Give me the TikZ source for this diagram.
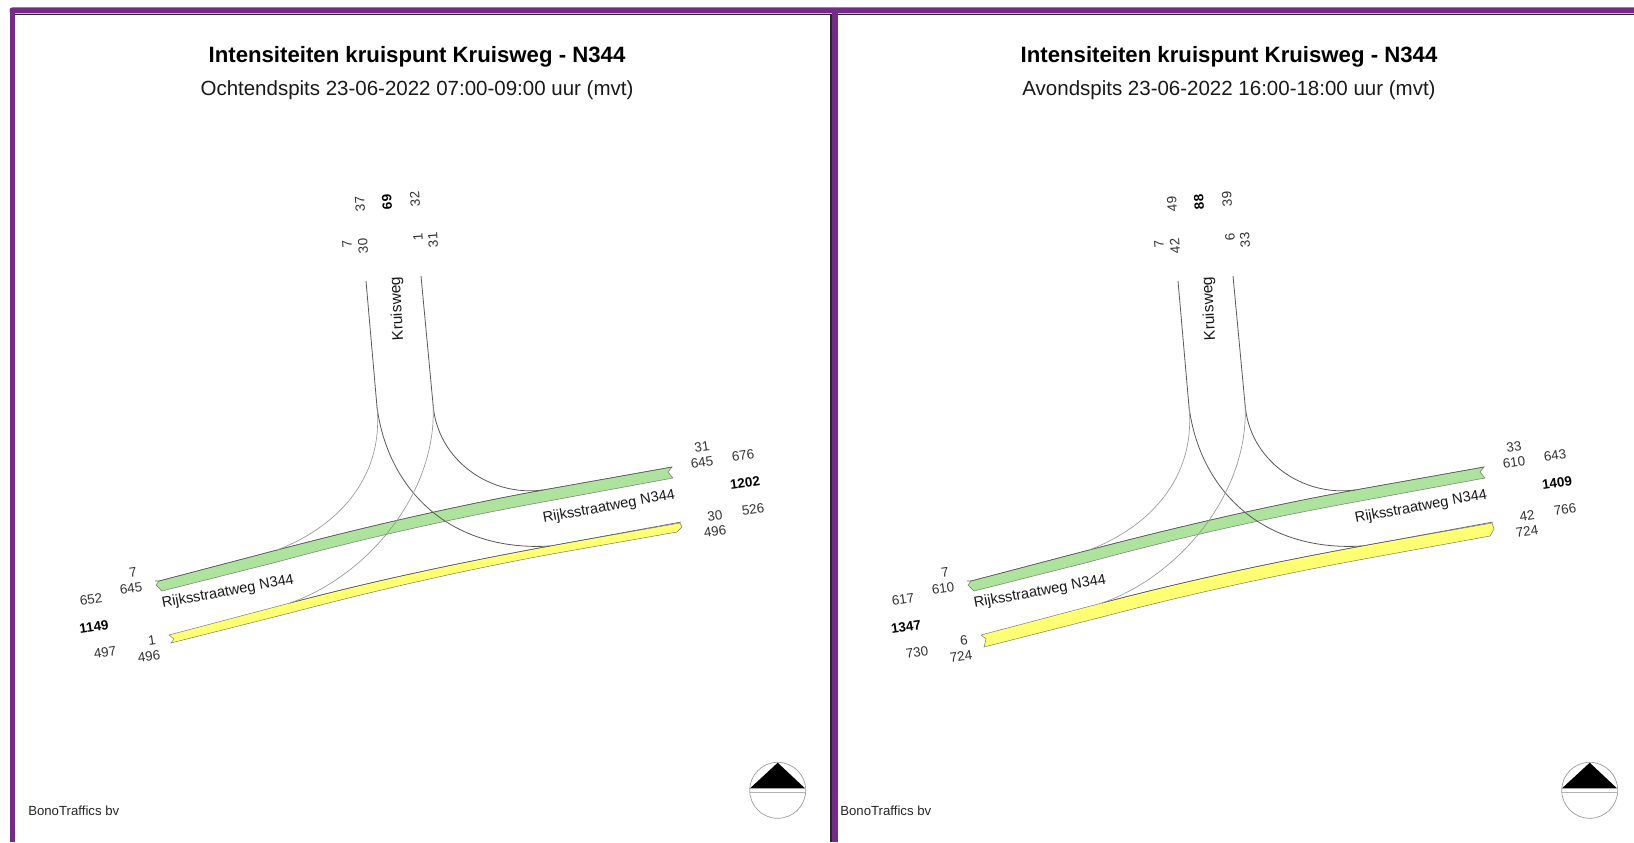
\documentclass[tikz,border=0pt]{standalone}
\usepackage{fontspec}
\setmainfont{Liberation Sans}
\definecolor{framepurple}{HTML}{772B88}
\definecolor{roadgreen}{HTML}{ADE39D}
\definecolor{roadyellow}{HTML}{FFFF73}
\tikzset{
  num/.style={font=\fontsize{10.1pt}{11pt}\selectfont,text=black!80,inner sep=0pt},
  numb/.style={font=\fontsize{10.1pt}{11pt}\selectfont\bfseries,text=black,inner sep=0pt},
  roadname/.style={font=\fontsize{10.95pt}{12pt}\selectfont,text=black!90,inner sep=0pt},
  titlet/.style={font=\fontsize{16.64pt}{18pt}\selectfont\bfseries,inner sep=0pt},
  subt/.style={font=\fontsize{15.37pt}{18pt}\selectfont,text=black!90,inner sep=0pt},
  edge/.style={draw=black!65,line width=0.6pt},
  thin edge/.style={draw=black!40,line width=0.5pt},
  bandline/.style={draw=black!65,line width=0.45pt},
}
\newcommand{\panelroads}[2]{%
  \begin{scope}[shift={(#2,0)}]
    \node[coordinate] (#1L0) at (366,281) {};
    \node[coordinate] (#1L1) at (377,407) {};
    \node[coordinate] (#1R0) at (421,276) {};
    \node[coordinate] (#1R1) at (433,404) {};
    \node[coordinate] (#1GL) at (277,550) {};
    \node[coordinate] (#1GR) at (543,490) {};
    \node[coordinate] (#1YL) at (290,603) {};
    \node[coordinate] (#1YR) at (550,546) {};
    % green band
    \fill[roadgreen,draw=black!55,line width=0.35pt]
      (159,581) -- (156,585) -- (162,591) -- (277,562)
      .. controls (365,538) and (455,518) .. (543,502) -- (673,478) -- (668,472) -- (672,467)
      -- (543,490) .. controls (455,506) and (365,527) .. (277,550) -- cycle;
    \draw[bandline] (155,581) -- (159,581) -- (277,550) .. controls (365,527) and (455,506) .. (543,490) -- (672,467);
    % yellow band
    \fill[roadyellow,draw=black!55,line width=0.35pt]
      (169,635) -- (\ynotch,639) -- (\ybotx,\yboty) -- (290,\ymidy)
      .. controls (377,\ymidy-23) and (465,\yrb+16) .. (552,\yrb) -- (\yex,\yey)
      -- (682,\ytipy) -- (680,523) -- (550,546)
      .. controls (463,562) and (377,580) .. (290,603) -- cycle;
    \draw[bandline] (290,603) .. controls (377,580) and (463,562) .. (550,546) -- (681,522);
    % arms
    \draw[edge] (#1L0) -- (#1L1);
    \draw[edge] (#1R0) -- (#1R1);
    \draw[edge] (#1L1) .. controls (388,490) and (450,552) .. (#1YR);
    \draw[edge] (#1R1) .. controls (437,460) and (490,497) .. (#1GR);
    \draw[thin edge] (#1L1) .. controls (384,480) and (335,528) .. (#1GL);
    \draw[thin edge] (#1R1) .. controls (438,490) and (370,575) .. (#1YL);
    % north sign
    \node[circle,draw=black!40,line width=0.5pt,minimum size=42pt,inner sep=0pt] (#1N) at (777.7,790.3) {};
    \fill (777.7,762.7) -- (805,788.3) -- (750,788.3) -- cycle;
    \draw[black!30,line width=0.5pt] (750,792.3) -- (805.4,792.3);
    \node[num,anchor=west,text=black!85,font=\fontsize{9.9pt}{11pt}\selectfont] (#1B) at (28,811) {BonoTraffics bv};
    \node[roadname,rotate=93,font=\fontsize{11.6pt}{12pt}\selectfont] (#1KW) at (397.5,308.5) {Kruisweg};
    \node[roadname,rotate=10.5] (#1RA) at (228,592) {Rijksstraatweg N344};
    \node[roadname,rotate=10.5] (#1RB) at (609,507) {Rijksstraatweg N344};
    \node[titlet] (#1T) at (417,56.5) {Intensiteiten kruispunt Kruisweg - N344};
  \end{scope}}
\newcommand{\kruisnums}[8]{%
  \begin{scope}[shift={(\pshift,0)},every node/.append style={rotate=94}]
    \node[num] (\pp a) at (360,204) {#1};
    \node[numb] (\pp b) at (387,202) {#2};
    \node[num] (\pp c) at (415,199) {#3};
    \node[num] (\pp d) at (347,244) {#4};
    \node[num] (\pp e) at (363,246) {#5};
    \node[num] (\pp f) at (418,237) {#6};
    \node[num] (\pp g) at (433,240) {#7};
  \end{scope}
  \begin{scope}[shift={(\pshift,0)}]
    \node[subt] (\pp S) at (417,90.5) {#8};
  \end{scope}}
\newcommand{\eastnums}[7]{%
  \begin{scope}[shift={(\pshift,0)},every node/.append style={rotate=8}]
    \node[num] (\pp h) at (702,447) {#1};
    \node[num] (\pp i) at (702,462) {#2};
    \node[num] (\pp j) at (743,455) {#3};
    \node[numb] (\pp k) at (745,483) {#4};
    \node[num] (\pp l) at (753,509) {#5};
    \node[num] (\pp m) at (715,516) {#6};
    \node[num] (\pp n) at (715,531) {#7};
  \end{scope}}
\newcommand{\westnums}[7]{%
  \begin{scope}[shift={(\pshift,0)},every node/.append style={rotate=8}]
    \node[num] (\pp o) at (133,572) {#1};
    \node[num] (\pp q) at (131,588) {#2};
    \node[num] (\pp r) at (91,599) {#3};
    \node[numb] (\pp s) at (94,627) {#4};
    \node[num] (\pp t) at (105,652) {#5};
    \node[num] (\pp u) at (152,640) {#6};
    \node[num] (\pp v) at (149,656) {#7};
  \end{scope}}
\begin{document}
\begin{tikzpicture}[x=0.75pt,y=-0.75pt]
  \useasboundingbox (0,0) rectangle (1634,842);
  \fill[white] (0,0) rectangle (1634,842);
  % frame
  \fill[framepurple,rounded corners=2pt] (9.5,7.5) rectangle (1640,13.5);
  \fill[framepurple] (9.5,10) rectangle (14.5,842);
  \fill[framepurple] (832,10) rectangle (838.3,842);
  \draw[black!85,line width=1.2pt] (14.5,14.4) -- (831.2,14.4) -- (831.2,842);
  \draw[black!85,line width=1.0pt] (838.3,14.2) -- (1634,14.2);
  % left panel
  \def\ynotch{174}\def\ybotx{171}\def\yboty{643}\def\ymidy{613}\def\yrb{554}\def\yex{677}\def\yey{532}\def\ytipy{527}
  \panelroads{p}{0}
  \def\pp{p}\def\pshift{0}
  \kruisnums{37}{69}{32}{7}{30}{1}{31}{Ochtendspits 23-06-2022 07:00-09:00 uur (mvt)}
  \eastnums{31}{645}{676}{1202}{526}{30}{496}
  \westnums{7}{645}{652}{1149}{497}{1}{496}
  % right panel
  \def\ynotch{174}\def\ybotx{172}\def\yboty{647}\def\ymidy{617}\def\yrb{559}\def\yex{678}\def\yey{536}\def\ytipy{529}
  \panelroads{w}{812}
  \def\pp{w}\def\pshift{812}
  \kruisnums{49}{88}{39}{7}{42}{6}{33}{Avondspits 23-06-2022 16:00-18:00 uur (mvt)}
  \eastnums{33}{610}{643}{1409}{766}{42}{724}
  \westnums{7}{610}{617}{1347}{730}{6}{724}
\end{tikzpicture}
\end{document}
